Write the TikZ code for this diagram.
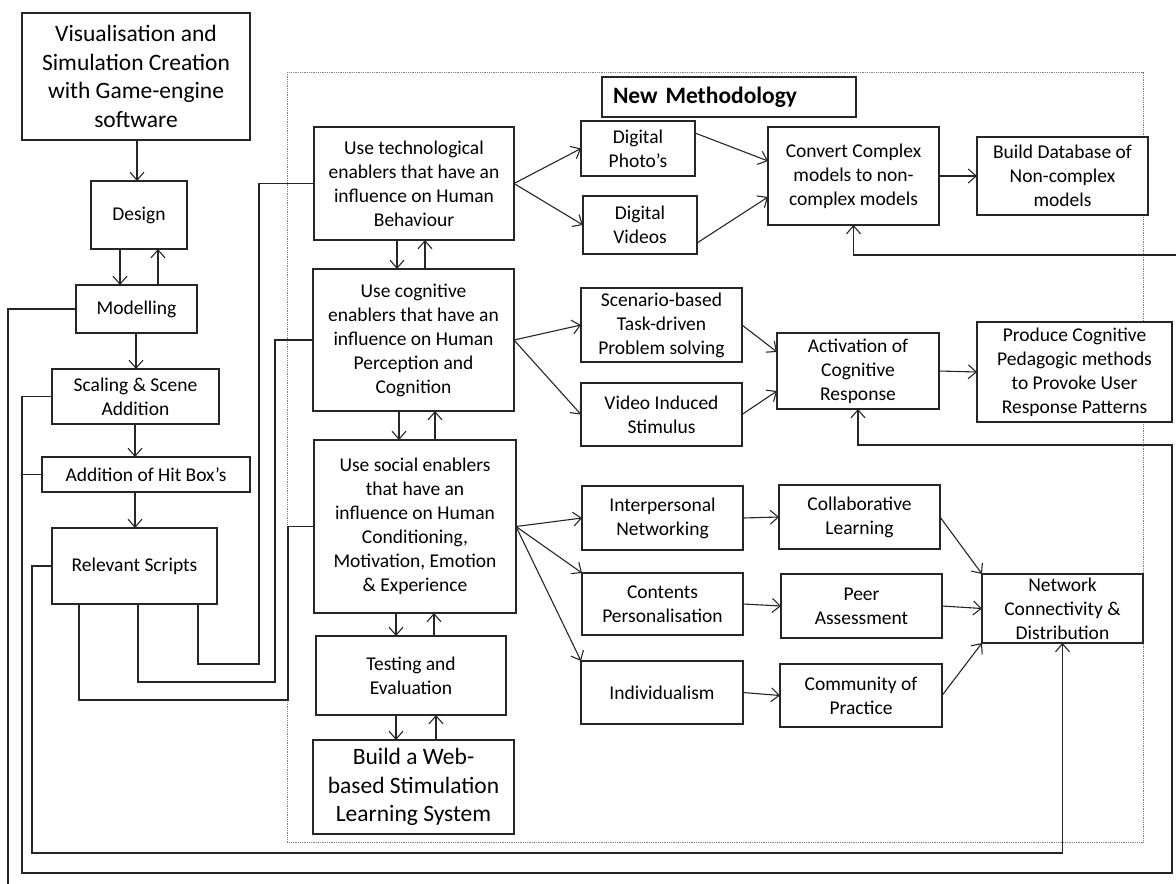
\documentclass[tikz,border=0pt]{standalone}
\usepackage{fontspec}
\setmainfont{Carlito}
\usetikzlibrary{arrows.meta}

\tikzset{
  blk/.style={draw=black!85, fill=white, line width=1.1pt, inner sep=0pt, outer sep=0pt,
              align=center, font=\fontsize{19.5}{24}\selectfont},
  bigtxt/.style={font=\fontsize{23.5}{28.5}\selectfont},
  link/.style={draw=black!85, line width=1.1pt},
  arr/.style={link, -{Straight Barb[length=8pt,width=14pt]}},
  frame/.style={draw=black!50, line width=0.8pt, densely dotted},
}

% box given by its corners: [options]{name}{x1}{y1}{x2}{y2}{text}
\newcommand\drawbox[7][]{%
  \node[blk, minimum width={(#5-#3)*1pt}, minimum height={(#6-#4)*1pt}, #1]
    (#2) at ({(#3+#5)/2},{(#4+#6)/2}) {#7};}

\begin{document}
\begin{tikzpicture}[x=1pt, y=-1pt]
\useasboundingbox (0,0) rectangle (1176,884);
\clip (0,0) rectangle (1176,884);

% methodology frame
\draw[frame] (287,72) rectangle (1143,842);

% left column: game-engine workflow
\drawbox[bigtxt]{vis}{22}{13}{250}{140}{Visualisation and\\Simulation Creation\\with Game-engine\\software}
\drawbox{design}{91}{181}{187}{249}{Design}
\drawbox{model}{76}{285}{197}{333}{Modelling}
\drawbox{scale}{52}{369}{219}{424}{Scaling \& Scene\\Addition}
\drawbox{hit}{42}{457}{250}{492}{Addition of Hit Box’s}
\drawbox{scripts}{52}{528}{217}{604}{Relevant Scripts}

% methodology title
\drawbox[text width=232pt, align=left, font=\fontsize{23.5}{28}\selectfont\bfseries]{newm}{602}{77}{856}{117}{New Methodology}

% enabler column
\drawbox{tech}{314}{127}{514}{240}{Use technological\\enablers that have an\\influence on Human\\Behaviour}
\drawbox{cog}{313}{269}{514}{411}{Use cognitive\\enablers that have an\\influence on Human\\Perception and\\Cognition}
\drawbox{social}{314}{440}{516}{613}{Use social enablers\\that have an\\influence on Human\\Conditioning,\\Motivation, Emotion\\\& Experience}
\drawbox{test}{316}{636}{506}{715}{Testing and\\Evaluation}
\drawbox[bigtxt]{web}{313}{740}{514}{834}{Build a Web-\\based Stimulation\\Learning System}

% technological branch
\drawbox{photo}{581}{121}{695}{176}{Digital\\Photo’s}
\drawbox{videos}{583}{196}{697}{254}{Digital\\Videos}
\drawbox{convert}{768}{127}{939}{225}{Convert Complex\\models to non-\\complex models}
\drawbox{db}{977}{137}{1148}{215}{Build Database of\\Non-complex\\models}

% cognitive branch
\drawbox{scen}{581}{288}{742}{362}{Scenario-based\\Task-driven\\Problem solving}
\drawbox{vidind}{581}{383}{742}{446}{Video Induced\\Stimulus}
\drawbox{act}{777}{333}{939}{409}{Activation of\\Cognitive\\Response}
\drawbox{prod}{977}{322}{1172}{422}{Produce Cognitive\\Pedagogic methods\\to Provoke User\\Response Patterns}

% social branch
\drawbox{inter}{582}{486}{743}{550}{Interpersonal\\Networking}
\drawbox{cont}{582}{573}{743}{635}{Contents\\Personalisation}
\drawbox{indiv}{581}{661}{743}{724}{Individualism}
\drawbox{collab}{779}{485}{940}{549}{Collaborative\\Learning}
\drawbox{peer}{781}{574}{942}{638}{Peer\\Assessment}
\drawbox{comm}{780}{664}{942}{727}{Community of\\Practice}
\drawbox{net}{982}{574}{1143}{643}{Network\\Connectivity \&\\Distribution}

% left column flow
\draw[arr] (vis.south -| 137,0) -- (design.north -| 137,0);
\draw[arr] (design.south -| 120,0) -- (model.north -| 120,0);
\draw[arr] (model.north -| 158,0) -- (design.south -| 158,0);
\draw[arr] (model.south -| 136,0) -- (scale.north -| 136,0);
\draw[arr] (scale.south -| 135,0) -- (hit.north -| 135,0);
\draw[arr] (hit.south -| 135,0) -- (scripts.north -| 135,0);

% enabler column, two-way links
\draw[arr] (tech.south -| 397,0) -- (cog.north -| 397,0);
\draw[arr] (cog.north -| 425,0) -- (tech.south -| 425,0);
\draw[arr] (cog.south -| 399,0) -- (social.north -| 399,0);
\draw[arr] (social.north -| 435,0) -- (cog.south -| 435,0);
\draw[arr] (social.south -| 396,0) -- (test.north -| 396,0);
\draw[arr] (test.north -| 434,0) -- (social.south -| 434,0);
\draw[arr] (test.south -| 396,0) -- (web.north -| 396,0);
\draw[arr] (web.north -| 436,0) -- (test.south -| 436,0);

% technological branch links
\draw[arr] (tech.east) -- (photo.west);
\draw[arr] (tech.east) -- (videos.west);
\draw[arr] (photo.east |- 0,133) -- (convert.west |- 0,161);
\draw[arr] (videos.east |- 0,243) -- (convert.west |- 0,197);
\draw[arr] (convert.east) -- (db.west);

% cognitive branch links
\draw[arr] (cog.east) -- (scen.west);
\draw[arr] (cog.east) -- (vidind.west);
\draw[arr] (scen.east) -- (act.west |- 0,352);
\draw[arr] (vidind.east) -- (act.west |- 0,391);
\draw[arr] (act.east) -- (prod.west);

% social branch links
\draw[arr] (social.east) -- (inter.west);
\draw[arr] (social.east) -- (cont.north west);
\draw[arr] (social.east) -- (indiv.north west);
\draw[arr] (inter.east) -- (collab.west);
\draw[arr] (cont.east) -- (peer.west);
\draw[arr] (indiv.east) -- (comm.west);
\draw[arr] (collab.east) -- (net.north west);
\draw[arr] (peer.east) -- (net.west);
\draw[arr] (comm.east) -- (net.south west);

% scripts feed the three enabler boxes
\draw[link] (scripts.south -| 198,0) |- (259,664) |- (tech.west);
\draw[link] (scripts.south -| 138,0) |- (275,682) |- (cog.west);
\draw[link] (scripts.south -| 79,0) |- (288,700) |- (social.west);

% feedback loops round the outside
\draw[arr] (model.west) -| (8,900) -| (1190,255) -| (convert.south);
\draw[arr] (scale.west) -| (22,873) -| (1172,445) -| (act.south);
\draw[link] (hit.west) -- (hit.west -| 22,0);
\draw[arr] (scripts.west) -| (32,853) -| (net.south);

\end{tikzpicture}
\end{document}
